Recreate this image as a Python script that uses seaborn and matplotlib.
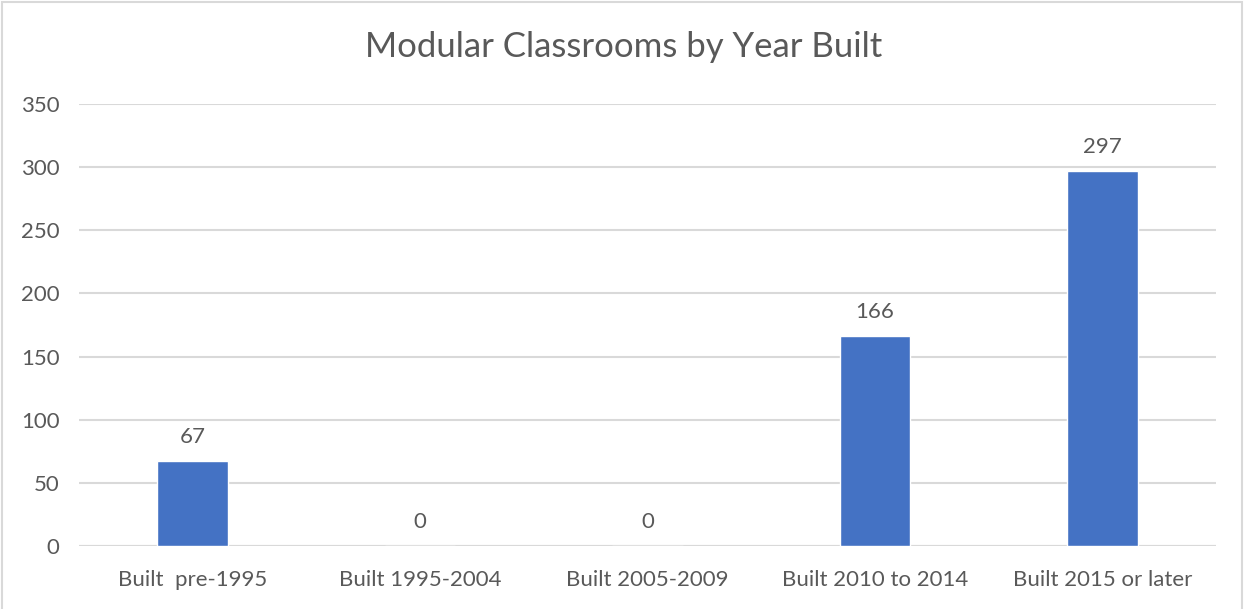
import matplotlib
matplotlib.use("Agg")
import matplotlib.pyplot as plt
from matplotlib.patches import Rectangle
import seaborn as sns
import pandas as pd

categories = ["Built  pre-1995", "Built 1995-2004", "Built 2005-2009",
              "Built 2010 to 2014", "Built 2015 or later"]
counts = [67, 0, 0, 166, 297]
y_ticks = [0, 50, 100, 150, 200, 250, 300, 350]

sns.set_theme(style="white")
plt.rcParams["font.family"] = ["Lato", "DejaVu Sans"]

text_color = "#595959"
grid_color = "#d9d9d9"
bar_color = "#4472C4"

df = pd.DataFrame({"category": categories, "count": counts})

fig = plt.figure(figsize=(12.47, 6.09), dpi=100)
ax = fig.add_axes([79 / 1247, 1 - 546 / 609, (1216 - 79) / 1247, (546 - 104) / 609])

sns.barplot(data=df, x="category", y="count", color=bar_color, width=0.31,
            saturation=1, ax=ax, zorder=3)

ax.set_ylim(0, 350)
ax.set_yticks(y_ticks)
ax.set_xlim(-0.5, len(categories) - 0.5)
ax.yaxis.grid(True, color=grid_color, linewidth=1.5, zorder=0)
ax.xaxis.grid(False)
for s in ax.spines.values():
    s.set_visible(False)
ax.axhline(0, color=grid_color, linewidth=1.5, zorder=2)

ax.set_xlabel("")
ax.set_ylabel("")
ax.tick_params(axis="both", length=0, labelsize=16, labelcolor=text_color)
ax.tick_params(axis="y", pad=14)
ax.tick_params(axis="x", pad=17)

for i, v in enumerate(counts):
    ax.annotate(str(v), (i, v), xytext=(0, 10), textcoords="offset points",
                ha="center", va="bottom", fontsize=16, color=text_color)

fig.text(0.5, 1 - 47 / 609, "Modular Classrooms by Year Built", ha="center",
         va="center", fontsize=25, color=text_color)

fig.patches.append(Rectangle((2 / 1247, -0.01), (1242 - 2) / 1247, 1 - 2 / 609 + 0.01,
                             transform=fig.transFigure, fill=False,
                             edgecolor=grid_color, linewidth=1.5))

fig.savefig("out.png", dpi=100)
